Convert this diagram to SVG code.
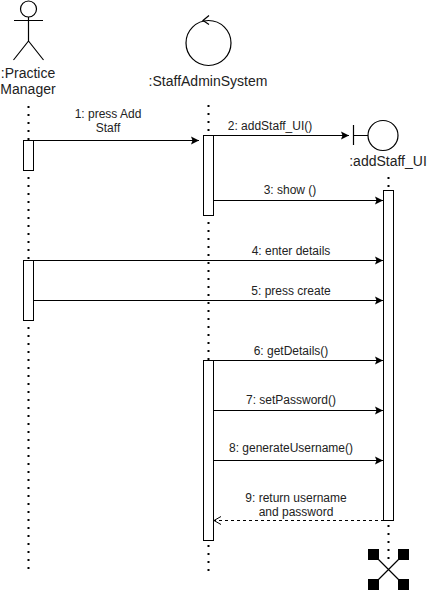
<svg xmlns="http://www.w3.org/2000/svg" width="427" height="590" viewBox="0 0 427 590">
<defs>
<marker id="arr" markerUnits="userSpaceOnUse" markerWidth="12" markerHeight="10" refX="9" refY="5" orient="auto"><path d="M1 1 L9 5 L1 9 L2.500 5 Z" fill="#000"/></marker>
<marker id="open" markerUnits="userSpaceOnUse" markerWidth="12" markerHeight="10" refX="9" refY="5" orient="auto"><path d="M2 1 L9 5 L2 9" fill="none" stroke="#000"/></marker>
</defs>
<style>
text{font-family:"Liberation Sans",Arial,sans-serif;fill:#222;text-anchor:middle}
.n{font-size:14px}.m{font-size:12px}
.s{fill:none;stroke:#000;stroke-width:1.2}
.b{fill:#fff;stroke:#000;stroke-width:1}
.life{fill:none;stroke:#000;stroke-width:2;stroke-dasharray:2 6}
.c{fill:none;stroke:#000;stroke-width:1.2;marker-end:url(#arr)}
</style>
<rect width="427" height="590" fill="#fff"/>
<g id="connectors">
<path class="life" d="M28.500 106V140M28.500 177V260M28.500 327V572"/>
<path class="life" d="M208.500 105V135M208.500 222V360M208.500 545V572"/>
<path class="life" d="M388.500 177V190M388.500 525V565"/>
<path class="c" d="M33 140.500H199"/>
<path class="c" d="M213 135.500H349"/>
<path class="c" d="M213 200.500H383"/>
<path class="c" d="M33 260.500H383"/>
<path class="c" d="M33 300.500H383"/>
<path class="c" d="M213 360.500H383"/>
<path class="c" d="M213 410.500H383"/>
<path class="c" d="M213 460.500H383"/>
<path d="M384 520.500H214" fill="none" stroke="#000" stroke-width="1" stroke-dasharray="3 3" marker-end="url(#open)"/>
</g>
<g id="practice-manager">
<circle class="s" cx="28.500" cy="9" r="8"/>
<path class="s" d="M28.500 17V41M14 20.500H43M28.500 41L13.500 60M28.500 41L43.500 60"/>
<text class="n" x="28" y="78">:Practice</text>
<text class="n" x="28" y="94">Manager</text>
<rect class="b" x="23.500" y="140.500" width="10" height="30"/>
<rect class="b" x="23.500" y="260.500" width="10" height="60"/>
</g>
<g id="staff-admin-system">
<circle class="s" cx="208.500" cy="43" r="22.500"/>
<path class="s" d="M209 15.500L203 20.500L209 24.500"/>
<text class="n" x="208" y="86">:StaffAdminSystem</text>
<rect class="b" x="203.500" y="135.500" width="10" height="80"/>
<rect class="b" x="203.500" y="360.500" width="10" height="180"/>
</g>
<g id="add-staff-ui">
<path class="s" d="M353.500 125V145M353.500 135.500H368"/>
<circle class="s" cx="383" cy="135.500" r="15"/>
<text class="n" x="388" y="166">:addStaff_UI</text>
<rect class="b" x="383.500" y="190.500" width="10" height="330"/>
</g>
<g id="destroy">
<path class="s" d="M372 553L405 586M405 553L372 586"/>
<rect x="368" y="549" width="11" height="11" fill="#000"/>
<rect x="398" y="549" width="11" height="11" fill="#000"/>
<rect x="368" y="579" width="11" height="11" fill="#000"/>
<rect x="398" y="579" width="11" height="11" fill="#000"/>
</g>
<g id="labels">
<text class="m" x="108" y="118">1: press Add</text>
<text class="m" x="108" y="132">Staff</text>
<text class="m" x="270" y="130">2: addStaff_UI()</text>
<text class="m" x="290" y="194">3: show ()</text>
<text class="m" x="291" y="255">4: enter details</text>
<text class="m" x="291" y="295">5: press create</text>
<text class="m" x="291" y="355">6: getDetails()</text>
<text class="m" x="291" y="404">7: setPassword()</text>
<text class="m" x="291" y="452">8: generateUsername()</text>
<text class="m" x="296" y="502">9: return username</text>
<text class="m" x="296" y="516">and password</text>
</g>
</svg>
